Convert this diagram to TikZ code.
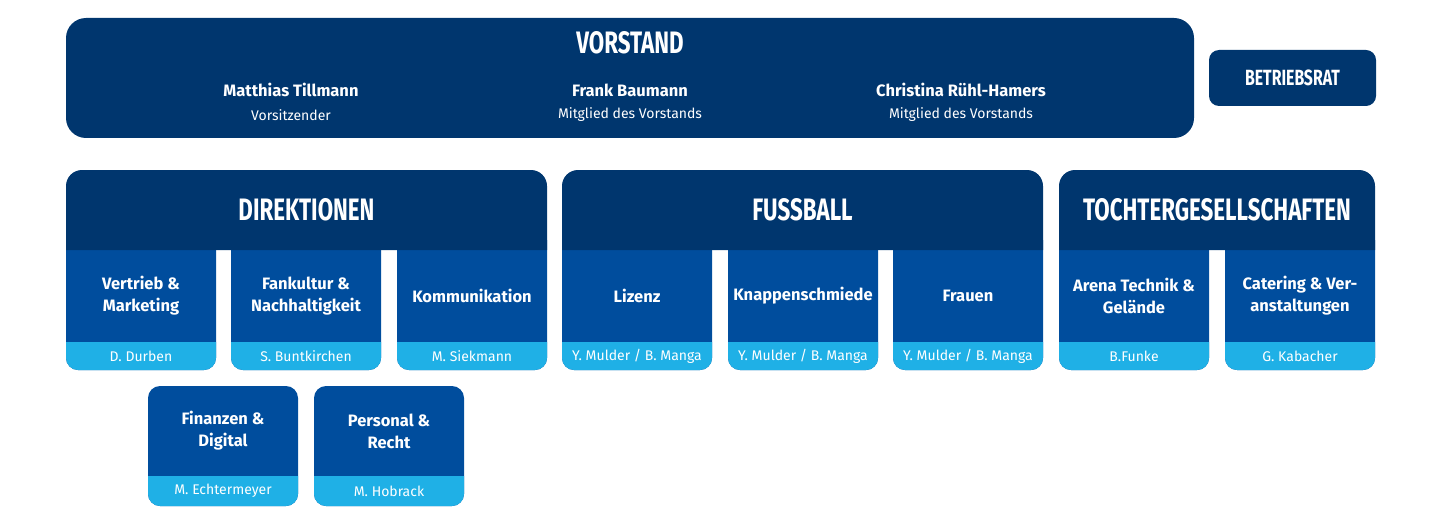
\documentclass[tikz,border=0pt]{standalone}
\usepackage{fontspec}
\setmainfont{Fira Sans}
\newfontfamily\headfont[FakeStretch=0.72]{Fira Sans}
\definecolor{dk}{HTML}{00366E}
\definecolor{md}{HTML}{004D9D}
\definecolor{lt}{HTML}{1FB0E6}
\tikzset{
 head/.style={text=white,font=\headfont\bfseries\fontsize{31}{31}\selectfont},
 ttl/.style={text=white,font=\bfseries\fontsize{16.5}{22}\selectfont,align=center},
 ppl/.style={text=white,font=\fontsize{14}{16}\selectfont},
 rc/.style={rounded corners=12pt}
}
\newcommand\subbox[5]{% name, x1, ytop, title, person
 \fill[md,rc] (#2,#3-10) -- (#2,#3+120) -- (#2+150,#3+120) -- (#2+150,#3-10);
 \fill[lt,rc] (#2,#3+92) -- (#2,#3+120) -- (#2+150,#3+120) -- (#2+150,#3+92);
 \node[ttl] (#1t) at (#2+75,#3+46) {#4};
 \node[ppl] (#1p) at (#2+75,#3+106) {#5};
}
\begin{document}
\begin{tikzpicture}[x=1pt,y=-1pt]
\useasboundingbox (0,0) rectangle (1440,524);
% Vorstand
\fill[dk,rounded corners=20pt] (66,18) rectangle (1194,138);
\node[head] (vor) at (630,43) {VORSTAND};
\node[ttl] (m1) at (291,90) {Matthias Tillmann};
\node[ppl] (m1r) at (291,115) {Vorsitzender};
\node[ttl] (m2) at (630,90) {Frank Baumann};
\node[ppl] (m2r) at (630,115) {Mitglied des Vorstands};
\node[ttl] (m3) at (961,90) {Christina Rühl-Hamers};
\node[ppl] (m3r) at (961,115) {Mitglied des Vorstands};
\fill[dk,rounded corners=10pt] (1209,50) rectangle (1376,106);
\node[head,font=\headfont\bfseries\fontsize{22}{22}\selectfont] (br) at (1292.5,78) {BETRIEBSRAT};
% sub boxes
\subbox{a}{66}{250}{Vertrieb \&\\Marketing}{D. Durben}
\subbox{b}{231}{250}{Fankultur \&\\Nachhaltigkeit}{S. Buntkirchen}
\subbox{c}{397}{250}{Kommunikation}{M. Siekmann}
\subbox{d}{562}{250}{Lizenz}{Y. Mulder / B. Manga}
\subbox{e}{728}{250}{Knappenschmiede}{Y. Mulder / B. Manga}
\subbox{f}{893}{250}{Frauen}{Y. Mulder / B. Manga}
\subbox{g}{1059}{250}{Arena Technik \&\\Gelände}{B.Funke}
\subbox{h}{1225}{250}{Catering \& Ver-\\anstaltungen}{G. Kabacher}
% second row
\fill[md,rc] (148,386) rectangle (298,506);
\fill[lt,rc] (148,476) -- (148,506) -- (298,506) -- (298,476);
\node[ttl] (it) at (223,431) {Finanzen \&\\Digital};
\node[ppl] (ip) at (223,491) {M. Echtermeyer};
\fill[md,rc] (314,386) rectangle (464,506);
\fill[lt,rc] (314,476) -- (314,506) -- (464,506) -- (464,476);
\node[ttl] (jt) at (389,431) {Personal \&\\Recht};
\node[ppl] (jp) at (389,491) {M. Hobrack};
% headers
\fill[dk,rounded corners=16pt] (66,250) -- (66,170) -- (547,170) -- (547,250);
\node[head] (dir) at (306.5,210) {DIREKTIONEN};
\fill[dk,rounded corners=16pt] (562,250) -- (562,170) -- (1043,170) -- (1043,250);
\node[head] (fus) at (802.5,210) {FUSSBALL};
\fill[dk,rounded corners=16pt] (1059,250) -- (1059,170) -- (1375,170) -- (1375,250);
\node[head] (toc) at (1217,210) {TOCHTERGESELLSCHAFTEN};
\end{tikzpicture}
\end{document}
